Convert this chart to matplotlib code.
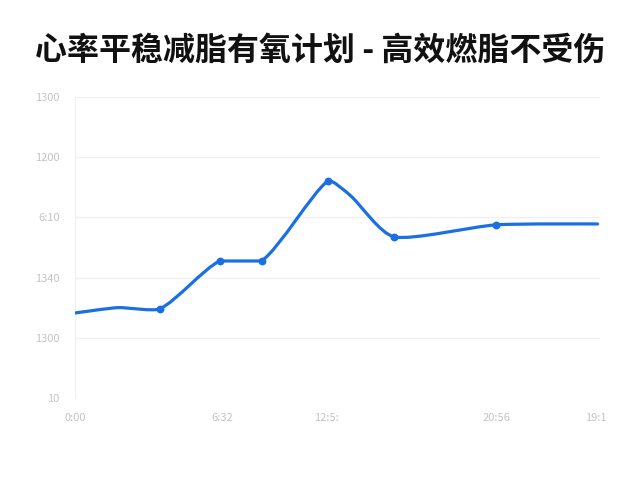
"""Smoothed heart-rate line chart with a CJK title."""

import matplotlib

matplotlib.use("Agg")
import matplotlib.pyplot as plt
import numpy as np
from matplotlib.path import Path
from matplotlib.patches import PathPatch

plt.rcParams["font.family"] = ["Noto Sans CJK SC", "DejaVu Sans"]

TITLE = "心率平稳减脂有氧计划 - 高效燃脂不受伤"

# series (x in percent of the time span, y in percent of the axis range)
x_vals = [0.0, 8.2, 16.2, 27.6, 35.6, 48.2, 52.4, 60.9, 80.2, 99.6]
y_vals = [28.2, 30.0, 29.6, 45.5, 45.5, 72.1, 67.4, 53.5, 57.5, 57.8]
has_marker = [False, False, True, True, True, True, False, True, True, False]

x_ticks = [0.0, 28.0, 48.0, 80.4, 99.2]
x_labels = ["0:00", "6:32", "12:5:", "20:56", "19:1"]
y_ticks = [0, 20, 40, 60, 80, 100]
y_labels = ["10", "1300", "1340", "6:10", "1200", "1300"]

LINE = "#1a6fe3"


def smooth_path(xs, ys, smooth=0.22):
    pts = np.column_stack([xs, ys])
    n = len(pts)
    verts = [pts[0]]
    codes = [Path.MOVETO]
    ctrl = []
    for i in range(n):
        if i == 0 or i == n - 1:
            ctrl.append((pts[i], pts[i]))
            continue
        prev, cur, nxt = pts[i - 1], pts[i], pts[i + 1]
        v = (nxt - prev) * smooth
        d0 = np.hypot(*(cur - prev))
        d1 = np.hypot(*(nxt - cur))
        tot = d0 + d1
        c_in = cur - v * d0 / tot
        c_out = cur + v * d1 / tot
        # keep flat stretches flat
        if cur[1] == prev[1]:
            c_in = np.array([c_in[0], cur[1]])
        if cur[1] == nxt[1]:
            c_out = np.array([c_out[0], cur[1]])
        ctrl.append((c_in, c_out))
    for i in range(1, n):
        verts += [ctrl[i - 1][1], ctrl[i][0], pts[i]]
        codes += [Path.CURVE4] * 3
    return Path(verts, codes)


fig = plt.figure(figsize=(6.4, 4.8), dpi=100)
ax = fig.add_axes([0.117, 0.171, 0.82, 0.627])

ax.add_patch(PathPatch(smooth_path(x_vals, y_vals), facecolor="none",
                       edgecolor=LINE, lw=2.3, capstyle="round",
                       joinstyle="round", zorder=3))
mx = [x for x, m in zip(x_vals, has_marker) if m]
my = [y for y, m in zip(y_vals, has_marker) if m]
ax.scatter(mx, my, s=32, color=LINE, zorder=4, linewidths=0)

ax.set_xlim(0, 100)
ax.set_ylim(0, 100)
ax.set_xticks(x_ticks)
ax.set_xticklabels(x_labels)
ax.set_yticks(y_ticks)
ax.set_yticklabels(y_labels)
ax.tick_params(length=0, labelsize=8, colors="#c4c4c4", pad=11)
ax.grid(axis="y", color="#f0f0f0", lw=0.9)
for side in ["top", "right", "bottom"]:
    ax.spines[side].set_visible(False)
ax.spines["left"].set_color("#f0f0f0")

fig.text(0.5, 0.895, TITLE, ha="center", va="center", fontsize=23,
         fontweight="bold", color="#111111")

fig.savefig("out.png", dpi=100, facecolor="white")
